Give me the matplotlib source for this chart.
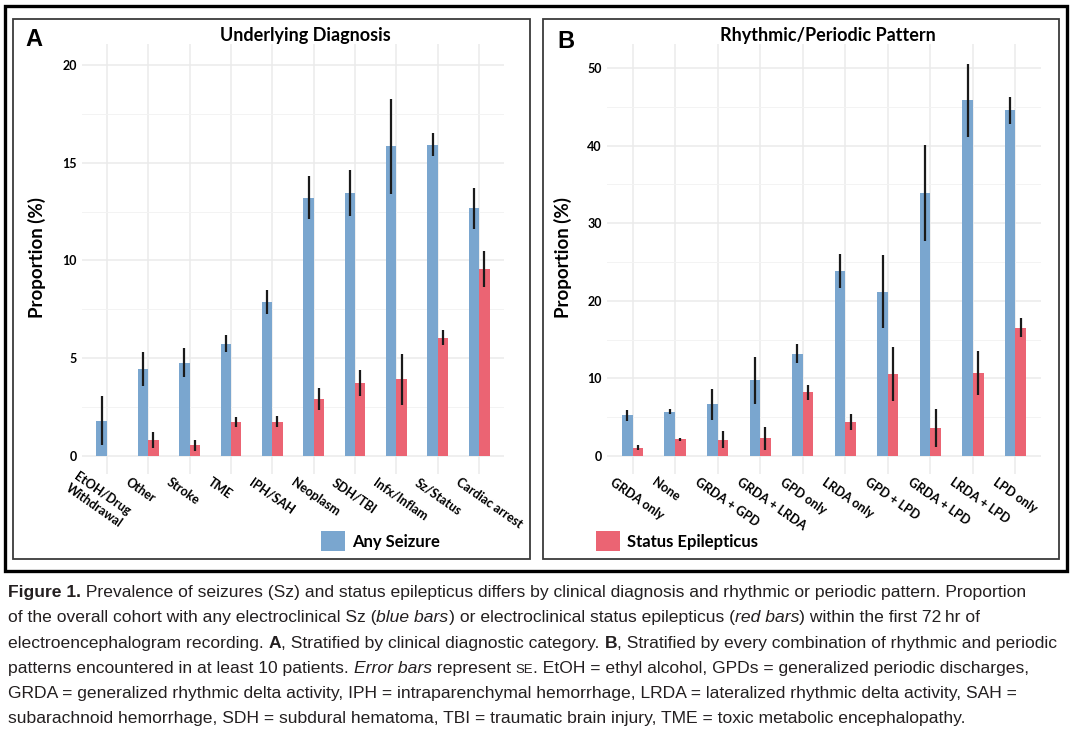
import numpy as np
import matplotlib
matplotlib.use('Agg')
import matplotlib.pyplot as plt
from matplotlib.patches import Rectangle, Patch
from matplotlib.transforms import ScaledTranslation

plt.rcParams['font.family'] = ['Lato', 'DejaVu Sans']

W, H = 1079, 732

# 数据 - A: underlying diagnosis
diagnosis = ['EtOH/Drug\nWithdrawal', 'Other', 'Stroke', 'TME', 'IPH/SAH',
             'Neoplasm', 'SDH/TBI', 'Infx/Inflam', 'Sz/Status', 'Cardiac arrest']
diag_any_sz = [1.81, 4.44, 4.78, 5.75, 7.87, 13.22, 13.44, 15.85, 15.93, 12.66]
diag_any_sz_se = [1.27, 0.86, 0.74, 0.43, 0.60, 1.12, 1.17, 2.43, 0.61, 1.03]
diag_status = [0.0, 0.82, 0.56, 1.72, 1.76, 2.92, 3.75, 3.92, 6.06, 9.58]
diag_status_se = [0.0, 0.39, 0.28, 0.25, 0.29, 0.55, 0.66, 1.30, 0.39, 0.92]

# 数据 - B: rhythmic/periodic pattern
pattern = ['GRDA only', 'None', 'GRDA + GPD', 'GRDA + LRDA', 'GPD only',
           'LRDA only', 'GPD + LPD', 'GRDA + LPD', 'LRDA + LPD', 'LPD only']
pat_any_sz = [5.26, 5.69, 6.68, 9.78, 13.19, 23.85, 21.15, 33.90, 45.85, 44.53]
pat_any_sz_se = [0.73, 0.33, 2.00, 3.04, 1.27, 2.14, 4.70, 6.17, 4.70, 1.75]
pat_status = [1.08, 2.16, 2.11, 2.28, 8.19, 4.40, 10.56, 3.62, 10.65, 16.55]
pat_status_se = [0.37, 0.17, 1.12, 1.51, 0.97, 1.06, 3.45, 2.41, 2.85, 1.27]

blue = '#7AA6CF'
red = '#EB6473'
bar_w = 0.25

fig = plt.figure(figsize=(W / 100, H / 100), dpi=100)
fig.patch.set_facecolor('white')


def px_axes(left, top, right, bottom):
    return fig.add_axes([left / W, 1 - bottom / H, (right - left) / W, (bottom - top) / H])


def draw_panel(ax, cats, sz, sz_se, st, st_se, ylim, step):
    x = np.arange(len(cats))
    err_kw = dict(ecolor='#1a1a1a', elinewidth=1.6, capsize=0, zorder=3)
    ax.bar(x - bar_w / 2, sz, bar_w, yerr=sz_se, color=blue, error_kw=err_kw, zorder=2)
    ax.bar(x + bar_w / 2, st, bar_w, yerr=st_se, color=red, error_kw=err_kw, zorder=2)
    ax.set_xlim(-0.6, 9.6)
    ax.set_ylim(*ylim)
    ax.set_yticks(np.arange(0, ylim[1], step))
    ax.set_yticks(np.arange(step / 2, ylim[1], step), minor=True)
    ax.set_yticklabels([f'{t:g}' for t in np.arange(0, ylim[1], step)],
                       fontsize=9, fontweight='bold')
    ax.tick_params(which='both', length=0)
    ax.tick_params(axis='x', pad=0)
    ax.tick_params(axis='y', pad=3.6)
    ax.set_xticks(x)
    ax.set_xticklabels(cats, rotation=-35, ha='left', va='top', rotation_mode='anchor',
                       fontsize=9, fontweight='bold', linespacing=1.25)
    # 标签向左下偏移，贴近参考图的位置（要在 tick_params 之后设置）
    for lab in ax.get_xticklabels():
        nl = lab.get_text().count('\n')
        off = ScaledTranslation((-18 - 10 * nl) / 100, (-2 + 6 * nl) / 100, fig.dpi_scale_trans)
        lab.set_transform(lab.get_transform() + off)
    ax.set_axisbelow(True)
    ax.grid(which='major', color='#EBEBEB', lw=1.1)
    ax.grid(which='minor', axis='y', color='#F3F3F3', lw=0.7)
    for s in ax.spines.values():
        s.set_visible(False)


ax_a = px_axes(82, 44, 504, 474)
draw_panel(ax_a, diagnosis, diag_any_sz, diag_any_sz_se, diag_status, diag_status_se,
           (-0.92, 21.07), 5)
ax_b = px_axes(607, 44, 1041, 474)
draw_panel(ax_b, pattern, pat_any_sz, pat_any_sz_se, pat_status, pat_status_se,
           (-2.32, 53.09), 10)

# 标题和面板字母
fig.text(305 / W, 1 - 35 / H, 'Underlying Diagnosis', ha='center', va='center',
         fontsize=13, fontweight='bold')
fig.text(828 / W, 1 - 35 / H, 'Rhythmic/Periodic Pattern', ha='center', va='center',
         fontsize=13, fontweight='bold')
fig.text(25 / W, 1 - 40 / H, 'A', ha='left', va='center', fontsize=17, fontweight='bold',
         family='Liberation Sans')
fig.text(557 / W, 1 - 41 / H, 'B', ha='left', va='center', fontsize=17, fontweight='bold',
         family='Liberation Sans')
fig.text(37 / W, 1 - 257 / H, 'Proportion (%)', ha='center', va='center', rotation=90,
         fontsize=13.5, fontweight='bold')
fig.text(563 / W, 1 - 257 / H, 'Proportion (%)', ha='center', va='center', rotation=90,
         fontsize=13.5, fontweight='bold')

# 图例
for ax, lab, col, xl in [(ax_a, 'Any Seizure', blue, 321), (ax_b, 'Status Epilepticus', red, 596)]:
    leg = ax.legend(handles=[Patch(facecolor=col, edgecolor='none', label=lab)],
                    loc='center left', bbox_to_anchor=(xl / W, 1 - 541 / H),
                    bbox_transform=fig.transFigure, frameon=False,
                    prop=dict(weight='bold', size=12), handlelength=1.44, handleheight=1.44,
                    handletextpad=0.42, borderpad=0, borderaxespad=0)

# 外框
fig.add_artist(Rectangle((5 / W, 1 - 571 / H), 1062 / W, 565 / H, transform=fig.transFigure,
                         fill=False, ec='black', lw=2.4))
for l, r in [(13, 530), (543, 1059)]:
    fig.add_artist(Rectangle((l / W, 1 - 559 / H), (r - l) / W, 540 / H,
                             transform=fig.transFigure, fill=False, ec='#3a3a3a', lw=1.3))

# 图注
renderer = fig.canvas.get_renderer()
cap_size = 12.6
cap_family = ['Liberation Sans', 'DejaVu Sans']


def style_kw(style):
    kw = dict(family=cap_family, fontsize=cap_size, color='#231f20')
    if style == 'b':
        kw['fontweight'] = 'bold'
    elif style == 'i':
        kw['fontstyle'] = 'italic'
    elif style == 'sc':
        kw['fontsize'] = cap_size * 0.75
    return kw


def advance(txt, style):
    t1 = fig.text(0, 0, '|' + txt + '|', **style_kw(style))
    t2 = fig.text(0, 0, '||', **style_kw(style))
    w = t1.get_window_extent(renderer).width - t2.get_window_extent(renderer).width
    t1.remove()
    t2.remove()
    return w


def draw_runs(x_px, y_px, runs):
    x = x_px
    for txt, style in runs:
        fig.text(x / W, 1 - y_px / H, txt, ha='left', va='baseline', **style_kw(style))
        x += advance(txt, style)


caption = [
    [('Figure 1.', 'b'), (' Prevalence of seizures (Sz) and status epilepticus differs by clinical '
                          'diagnosis and rhythmic or periodic pattern. Proportion', 'n')],
    [('of the overall cohort with any electroclinical Sz (', 'n'), ('blue bars', 'i'),
     (') or electroclinical status epilepticus (', 'n'), ('red bars', 'i'),
     (') within the first 72\u2009hr of', 'n')],
    [('electroencephalogram recording. ', 'n'), ('A', 'b'),
     (', Stratified by clinical diagnostic category. ', 'n'), ('B', 'b'),
     (', Stratified by every combination of rhythmic and periodic', 'n')],
    [('patterns encountered in at least 10 patients. ', 'n'), ('Error bars', 'i'),
     (' represent ', 'n'), ('SE', 'sc'),
     ('. EtOH = ethyl alcohol, GPDs = generalized periodic discharges,', 'n')],
    [('GRDA = generalized rhythmic delta activity, IPH = intraparenchymal hemorrhage, '
      'LRDA = lateralized rhythmic delta activity, SAH =', 'n')],
    [('subarachnoid hemorrhage, SDH = subdural hematoma, TBI = traumatic brain injury, '
      'TME = toxic metabolic encephalopathy.', 'n')],
]
for i, runs in enumerate(caption):
    draw_runs(8, 597 + i * 25.3, runs)

fig.savefig('out.png', dpi=100)
